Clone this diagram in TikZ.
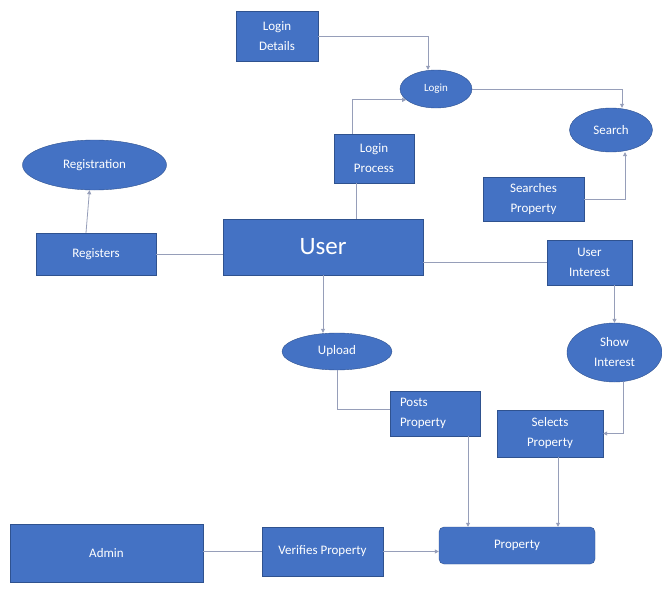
\documentclass[tikz,border=0pt]{standalone}
\usepackage{fontspec}
\setmainfont{Carlito}
\usepackage{tikz}
\usetikzlibrary{arrows.meta, shapes.geometric}

\definecolor{boxblue}{RGB}{68,114,196}
\definecolor{edgeblue}{RGB}{47,82,143}
\definecolor{linegray}{RGB}{150,158,185}

\begin{document}
\begin{tikzpicture}[x=1pt, y=-1pt,
        every node/.style={font=\fontsize{13}{20}\selectfont, text=white},
        box/.style={rectangle, draw=edgeblue, fill=boxblue, inner sep=0pt, align=center},
        oval/.style={ellipse, draw=edgeblue, fill=boxblue, inner sep=0pt, align=center},
        line/.style={draw=linegray, line width=0.8pt},
        arr/.style={line, -{Triangle[length=4pt, width=4pt]}}]
            \useasboundingbox (0, 0) rectangle (662, 589);

            \node[box, minimum width=82, minimum height=50] at (277, 36)   (logindet) {Login\\Details};
            \node[oval, minimum width=72, minimum height=38, font=\fontsize{11}{14}\selectfont] at (436, 89)   (login) {Login};
            \node[box, minimum width=80, minimum height=49] at (374, 158.5)   (loginproc) {Login\\Process};
            \node[oval, minimum width=83, minimum height=44] at (611, 130)   (search) {Search};
            \node[box, minimum width=101, minimum height=44] at (533.5, 199)   (searchprop) {Searches\\Property};
            \node[oval, minimum width=144, minimum height=50] at (94.5, 165)   (registration) {Registration};
            \node[box, minimum width=120, minimum height=42] at (96, 254)   (registers) {Registers};
            \node[box, minimum width=200, minimum height=56, font=\fontsize{25}{30}\selectfont] at (323, 247)   (user) {User};
            \node[box, minimum width=85, minimum height=45] at (589.5, 262.5)   (userint) {User\\Interest};
            \node[oval, minimum width=110, minimum height=37] at (337, 351.5)   (upload) {Upload};
            \node[oval, minimum width=95, minimum height=59] at (614.5, 352.5)   (showint) {Show\\Interest};
            \node[box, minimum width=90, minimum height=45, text width=70, align=left] at (435, 413.5)   (postprop) {Posts\\Property};
            \node[box, minimum width=106, minimum height=47] at (550, 433.5)   (selprop) {Selects\\Property};
            \node[box, rounded corners=5pt, minimum width=156, minimum height=37] at (517, 545.5)   (property) {Property};
            \node[box, minimum width=193, minimum height=58] at (106.5, 553)   (admin) {Admin};
            \node[box, minimum width=121, minimum height=49] at (322.5, 551.5)   (verify) {Verifies Property};

            \draw [arr] (logindet.east) -| ([xshift=-8]login.north);
            \draw [arr] ([xshift=-22]loginproc.north) |- (login.200);
            \draw [line] ([xshift=-18]loginproc.south) -- ([xshift=-18]loginproc.south |- user.north);
            \draw [arr] (login.east) -| ([xshift=11]search.north);
            \draw [arr] (searchprop.east) -| ([xshift=14]search.south);
            \draw [arr] ([xshift=-10]registers.north) -- ([xshift=-5]registration.south);
            \draw [line] (registers.east) -- (registers.east -| user.west);
            \draw [line] (userint.west -| user.east) -- (userint.west);
            \draw [arr] (user.south) -- (user.south |- upload.north);
            \draw [line] (upload.south) |- ([yshift=4]postprop.west);
            \draw [arr] ([xshift=33]postprop.south) -- ([xshift=33]postprop.south |- property.north);
            \draw [arr] (userint.south -| showint.north) -- (showint.north);
            \draw [arr] ([xshift=9]showint.south) |- (selprop.east);
            \draw [arr] ([xshift=8]selprop.south) -- ([xshift=8]selprop.south |- property.north);
            \draw [line] (admin.east |- verify.west) -- (verify.west);
            \draw [arr] (verify.east) -- (verify.east -| property.west);
        \end{tikzpicture}
\end{document}
